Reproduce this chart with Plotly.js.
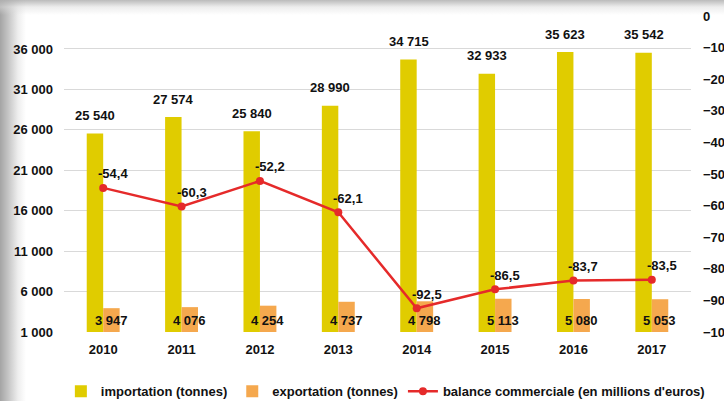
<!DOCTYPE html>
<html>
<head>
<meta charset="utf-8">
<script src="https://cdn.plot.ly/plotly-3.0.1.min.js"></script>
<style>
  html, body { margin: 0; padding: 0; width: 724px; height: 401px; overflow: hidden; }
  body {
    background:
      linear-gradient(to bottom, rgba(175,175,175,0.85) 0px, rgba(220,220,220,0.5) 7px, rgba(255,255,255,0) 15px),
      linear-gradient(to right, #a4a4a4 0px, #c4c4c4 8px, #eeeeee 18px, #ffffff 26px);
  }
  #chart { width: 724px; height: 401px; }
</style>
</head>
<body>
<div id="chart"></div>
<script>
const years = ['2010', '2011', '2012', '2013', '2014', '2015', '2016', '2017'];
const importation = [25540, 27574, 25840, 28990, 34715, 32933, 35623, 35542];
const exportation = [3947, 4076, 4254, 4737, 4798, 5113, 5080, 5053];
const balance = [-54.4, -60.3, -52.2, -62.1, -92.5, -86.5, -83.7, -83.5];
const leftRange = [1000, 40080];
const rightRange = [-100, 0];

function fmtInt(v) { return String(v).replace(/\B(?=(\d{3})+(?!\d))/g, ' '); }
function fmtDec(v) { return v.toFixed(1).replace('.', ','); }

const font = 'Liberation Sans, Arial, sans-serif';
const labelFont = { family: font, size: 13, color: '#111111', weight: 'bold' };

const traces = [
  { type: 'bar', name: 'importation (tonnes)', x: years, y: importation,
    marker: { color: '#E0CC00' }, hoverinfo: 'none' },
  { type: 'bar', name: 'exportation (tonnes)', x: years, y: exportation,
    marker: { color: '#F5A84E' }, hoverinfo: 'none' },
  { type: 'scatter', mode: 'lines+markers', name: "balance commerciale (en millions d'euros)",
    x: years, y: balance, yaxis: 'y2',
    line: { color: '#E52A2A', width: 2.5 }, marker: { color: '#E52A2A', size: 8 }, hoverinfo: 'none' }
];

const annotations = [];
years.forEach((yr, i) => {
  annotations.push({ x: i, y: importation[i], xref: 'x', yref: 'y', text: fmtInt(importation[i]),
    showarrow: false, xshift: -8, yshift: 18, yanchor: 'middle', font: labelFont });
  annotations.push({ x: i, y: leftRange[0], xref: 'x', yref: 'y', text: fmtInt(exportation[i]),
    showarrow: false, xshift: 8, yshift: 12, yanchor: 'middle', font: labelFont });
  annotations.push({ x: i, y: balance[i], xref: 'x', yref: 'y2', text: fmtDec(balance[i]),
    showarrow: false, xshift: 10, yshift: 14, yanchor: 'middle', font: labelFont });
});

const layout = {
  width: 724, height: 401,
  margin: { l: 64, r: 33, t: 16, b: 69, autoexpand: false },
  paper_bgcolor: 'rgba(0,0,0,0)', plot_bgcolor: 'rgba(0,0,0,0)',
  separators: ', ',
  font: { family: font, size: 13, color: '#111111' },
  barmode: 'group', bargap: 0.58, bargroupgap: 0,
  showlegend: true,
  legend: { orientation: 'h', xref: 'paper', yref: 'paper', x: -0.005, xanchor: 'left',
    y: -0.14, yanchor: 'top', font: { family: font, size: 13, color: '#111111', weight: 'bold' },
    itemwidth: 30, tracegroupgap: 0, bgcolor: 'rgba(0,0,0,0)' },
  xaxis: { type: 'category', range: [-0.5, 7.5], showgrid: false, showline: false, ticks: '',
    ticklabelstandoff: 8,
    tickfont: { family: font, size: 13, color: '#111111', weight: 'bold' } },
  yaxis: { range: leftRange, tick0: 1000, dtick: 5000, tickformat: ',d', showgrid: true,
    gridcolor: '#d9d9d9', gridwidth: 1, zeroline: false, showline: false, ticks: '',
    ticklabelstandoff: 10,
    tickfont: { family: font, size: 13, color: '#111111', weight: 'bold' } },
  yaxis2: { overlaying: 'y', side: 'right', range: rightRange, dtick: 10, showgrid: false,
    zeroline: false, showline: false, ticks: '', ticklabelstandoff: 11,
    tickfont: { family: font, size: 13, color: '#111111', weight: 'bold' } },
  annotations: annotations
};

Plotly.newPlot('chart', traces, layout, { displayModeBar: false, staticPlot: true });
</script>
</body>
</html>
